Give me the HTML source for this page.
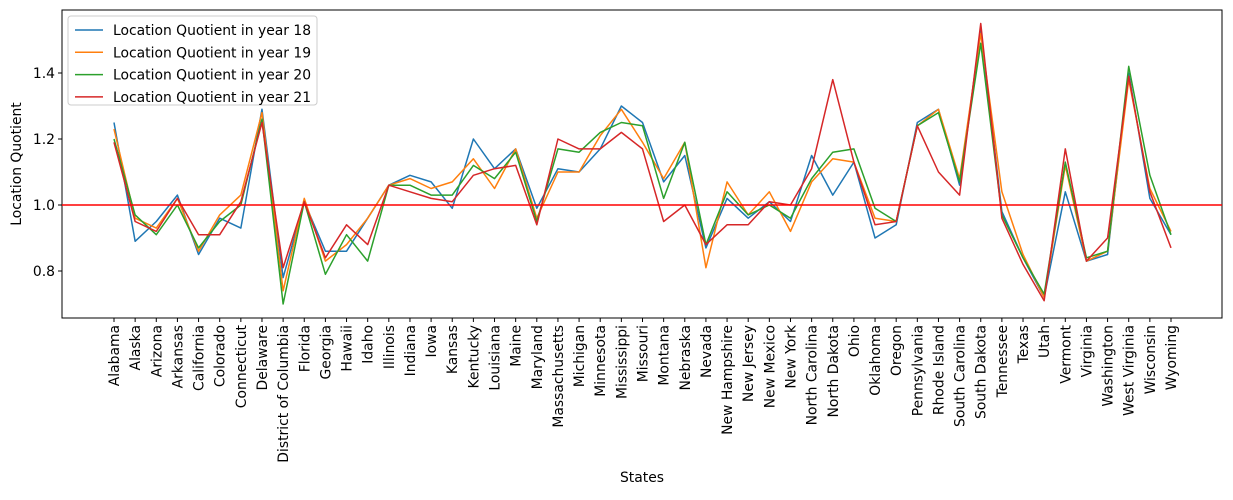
<!DOCTYPE html>
<html><head><meta charset="utf-8"><style>
body{margin:0;background:#fff;}
svg{font-family:"DejaVu Sans","Liberation Sans",sans-serif;}
</style></head><body>
<svg id="chart" width="1233" height="495"></svg>
<script>
const states=["Alabama","Alaska","Arizona","Arkansas","California","Colorado","Connecticut","Delaware","District of Columbia","Florida","Georgia","Hawaii","Idaho","Illinois","Indiana","Iowa","Kansas","Kentucky","Louisiana","Maine","Maryland","Massachusetts","Michigan","Minnesota","Mississippi","Missouri","Montana","Nebraska","Nevada","New Hampshire","New Jersey","New Mexico","New York","North Carolina","North Dakota","Ohio","Oklahoma","Oregon","Pennsylvania","Rhode Island","South Carolina","South Dakota","Tennessee","Texas","Utah","Vermont","Virginia","Washington","West Virginia","Wisconsin","Wyoming"];
const y18=[1.25,0.89,0.95,1.03,0.85,0.96,0.93,1.29,0.78,1.01,0.86,0.86,0.96,1.06,1.09,1.07,0.99,1.20,1.11,1.17,0.99,1.11,1.10,1.17,1.30,1.25,1.07,1.15,0.87,1.02,0.96,1.01,0.95,1.15,1.03,1.13,0.90,0.94,1.25,1.29,1.06,1.53,0.98,0.84,0.72,1.04,0.83,0.85,1.40,1.02,0.91];
const y19=[1.23,0.96,0.93,1.02,0.86,0.97,1.03,1.28,0.74,1.02,0.83,0.88,0.96,1.06,1.08,1.05,1.07,1.14,1.05,1.17,0.96,1.10,1.10,1.21,1.29,1.19,1.08,1.19,0.81,1.07,0.97,1.04,0.92,1.07,1.14,1.13,0.96,0.95,1.24,1.29,1.08,1.52,1.04,0.85,0.72,1.12,0.83,0.86,1.38,1.05,0.92];
const y20=[1.20,0.97,0.91,1.00,0.87,0.95,1.00,1.26,0.70,1.01,0.79,0.91,0.83,1.06,1.06,1.03,1.03,1.12,1.08,1.16,0.95,1.17,1.16,1.22,1.25,1.24,1.02,1.19,0.88,1.04,0.97,1.00,0.96,1.08,1.16,1.17,0.99,0.95,1.24,1.28,1.07,1.49,0.97,0.84,0.73,1.13,0.84,0.86,1.42,1.09,0.91];
const y21=[1.19,0.95,0.92,1.02,0.91,0.91,1.01,1.25,0.81,1.01,0.84,0.94,0.88,1.06,1.04,1.02,1.01,1.09,1.11,1.12,0.94,1.20,1.17,1.17,1.22,1.17,0.95,1.00,0.88,0.94,0.94,1.01,1.00,1.11,1.38,1.13,0.94,0.95,1.24,1.10,1.03,1.55,0.96,0.82,0.71,1.17,0.83,0.90,1.39,1.04,0.87];
const seriesNames=["Location Quotient in year 18","Location Quotient in year 19","Location Quotient in year 20","Location Quotient in year 21"];
const yTicks=[0.8,1.0,1.2,1.4];
const ref=1.0;

const NS="http://www.w3.org/2000/svg";
const svg=document.getElementById('chart');
const L=62,T=10,R=1222,B=318,FS=13.9;
const X=i=>114+i*(1171-114)/(states.length-1);
const Y=v=>205-(v-1.0)*330;
function mk(tag,attrs,parent){const e=document.createElementNS(NS,tag);for(const k in attrs)e.setAttribute(k,attrs[k]);(parent||svg).appendChild(e);return e;}

const frame=mk('rect',{x:L,y:T,width:R-L,height:B-T,fill:'none',stroke:'#000','stroke-width':1});



yTicks.forEach(v=>{
  const t=mk('line',{x1:L-4,x2:L,y1:Y(v),y2:Y(v),stroke:'#000'});
  
  
  const tx=mk('text',{x:L-7,y:Y(v)+5,'text-anchor':'end','font-size':FS});
  tx.textContent=v.toFixed(1);
  
  
});
states.forEach((s,i)=>{
  const t=mk('line',{x1:X(i),x2:X(i),y1:B,y2:B+4,stroke:'#000'});
  
  
  const tx=mk('text',{x:0,y:0,'text-anchor':'end','font-size':FS,transform:`translate(${X(i)+5},${B+7}) rotate(-90)`});
  tx.textContent=s;
  
  
});
const colors=['#1f77b4','#ff7f0e','#2ca02c','#d62728'];
[y18,y19,y20,y21].forEach((d,k)=>{
  const p=mk('polyline',{points:d.map((v,i)=>X(i)+','+Y(v)).join(' '),fill:'none',stroke:colors[k],'stroke-width':1.5,'stroke-linejoin':'round'});
  
  
});
const h=mk('line',{x1:L,x2:R,y1:Y(ref),y2:Y(ref),stroke:'#ff0000','stroke-width':1.5});



const yl=mk('text',{x:0,y:0,'text-anchor':'middle','font-size':FS,transform:`translate(21,${(T+B)/2}) rotate(-90)`});
yl.textContent='Location Quotient';


const xl=mk('text',{x:(L+R)/2,y:482,'text-anchor':'middle','font-size':FS});
xl.textContent='States';



const lg=mk('g',{});


mk('rect',{x:68,y:16,width:249,height:89,rx:3,fill:'#fff','fill-opacity':0.8,stroke:'#ccc'},lg);
seriesNames.forEach((n,k)=>{
  const yy=30+k*22.3;
  const e=mk('g',{},lg);
  
  
  mk('line',{x1:75,x2:103,y1:yy,y2:yy,stroke:colors[k],'stroke-width':1.5},e);
  const t=mk('text',{x:113,y:yy+5,'font-size':FS},e);
  t.textContent=n;
});
</script>
</body></html>
